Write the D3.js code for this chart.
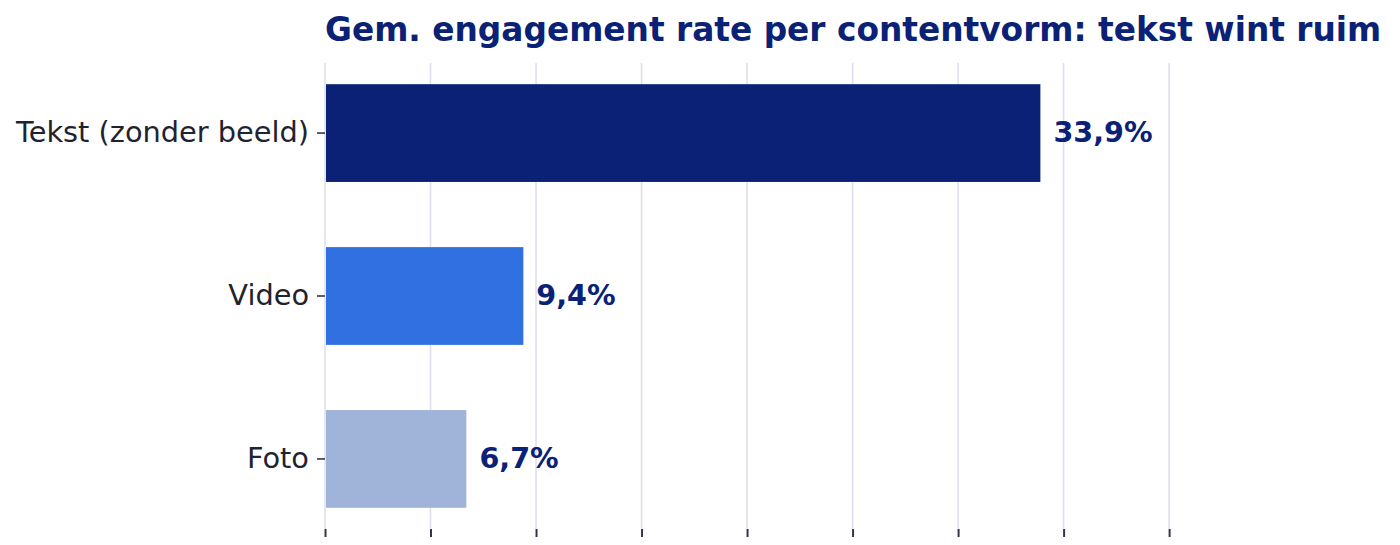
<!DOCTYPE html>
<html>
<head>
<meta charset="utf-8">
<script src="https://cdn.jsdelivr.net/npm/d3@7"></script>
<style>
  body { margin: 0; background: #fff; }
  svg { display: block; font-family: "DejaVu Sans", sans-serif; }
</style>
</head>
<body>
<div id="grafiek"></div>
<script>
// --- data ---
const categorieen = ["Tekst (zonder beeld)", "Video", "Foto"];
const waarden = [33.9, 9.4, 6.7];
const labels = ["33,9%", "9,4%", "6,7%"];
const kleuren = ["#0a2176", "#3170e0", "#a0b4d9"];
const xTicks = [0, 5, 10, 15, 20, 25, 30, 35, 40];
const titel = "Gem. engagement rate per contentvorm: tekst wint ruim";

// --- lienzo ---
const breedte = 1400, hoogte = 545;
const marge = { top: 63, right: 145, bottom: 16, left: 325 };
const plotB = breedte - marge.left - marge.right;
const plotH = hoogte - marge.top - marge.bottom;

const svg = d3.select("#grafiek").append("svg")
    .attr("width", breedte)
    .attr("height", hoogte);

const g = svg.append("g")
    .attr("transform", `translate(${marge.left},${marge.top})`);

// --- schalen ---
const x = d3.scaleLinear()
    .domain([0, d3.max(waarden) * 1.3])
    .range([0, plotB]);

const y = d3.scaleBand()
    .domain(categorieen)
    .range([0, plotH])
    .paddingInner(0.4)
    .paddingOuter(0.13);

// rasterlijnen
g.selectAll("line.raster")
    .data(xTicks)
    .enter().append("line")
    .attr("class", "raster")
    .attr("x1", d => x(d)).attr("x2", d => x(d))
    .attr("y1", 0).attr("y2", plotH)
    .attr("stroke", "#dde1ee")
    .attr("stroke-width", 1.6);

// x-as (alleen streepjes)
const xAs = g.append("g")
    .attr("transform", `translate(0,${plotH})`)
    .call(d3.axisBottom(x).tickValues(xTicks).tickSize(8).tickFormat(""));
xAs.select(".domain").remove();
xAs.selectAll(".tick line").attr("stroke", "#333644").attr("stroke-width", 2);

// y-as
const yAs = g.append("g")
    .call(d3.axisLeft(y).tickSize(8).tickPadding(8));
yAs.select(".domain").remove();
yAs.selectAll(".tick line").attr("stroke", "#333644").attr("stroke-width", 1.6);
yAs.selectAll(".tick text")
    .attr("fill", "#1f2330")
    .style("font-size", "28.8px")
    .style("font-family", "DejaVu Sans, sans-serif");

// balken
const rijen = categorieen.map((c, i) => ({ c, v: waarden[i], l: labels[i], k: kleuren[i] }));

g.selectAll("rect.balk")
    .data(rijen)
    .enter().append("rect")
    .attr("class", "balk")
    .attr("x", x(0) + 1)
    .attr("y", d => y(d.c))
    .attr("width", d => x(d.v) - x(0) - 1)
    .attr("height", y.bandwidth())
    .attr("fill", d => d.k);

// waardelabels
g.selectAll("text.waarde")
    .data(rijen)
    .enter().append("text")
    .attr("class", "waarde")
    .attr("x", d => x(d.v) + 13)
    .attr("y", d => y(d.c) + y.bandwidth() / 2)
    .attr("dy", "0.3em")
    .attr("fill", "#0a2176")
    .style("font-size", "28.6px")
    .style("font-weight", "bold")
    .text(d => d.l);

// titel
svg.append("text")
    .attr("x", marge.left)
    .attr("y", 41)
    .attr("fill", "#0a2176")
    .style("font-size", "32.8px")
    .style("font-weight", "bold")
    .text(titel);
</script>
</body>
</html>
